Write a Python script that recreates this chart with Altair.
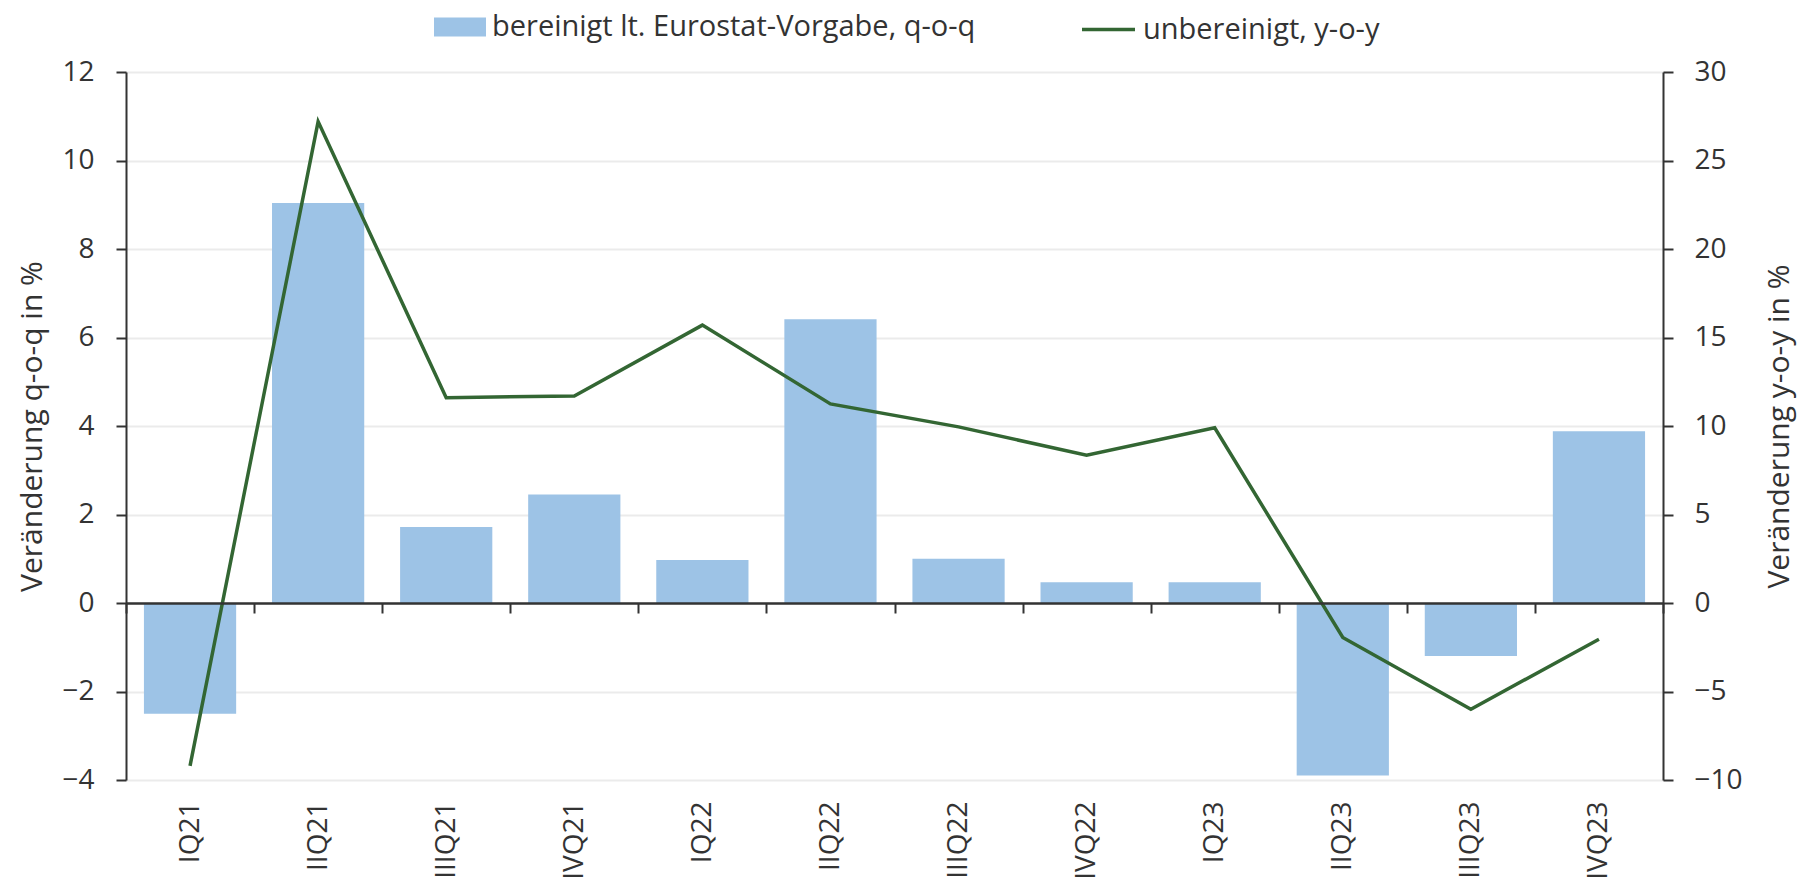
import altair as alt
import pandas as pd

quarters = ["IQ21", "IIQ21", "IIIQ21", "IVQ21", "IQ22", "IIQ22",
            "IIIQ22", "IVQ22", "IQ23", "IIQ23", "IIIQ23", "IVQ23"]
qoq = [-2.5, 9.04, 1.72, 2.45, 0.97, 6.41, 1.0, 0.47, 0.47, -3.9, -1.2, 3.88]
yoy = [-9.2, 27.2, 11.6, 11.7, 15.7, 11.25, 9.95, 8.35, 9.9, -1.95, -6.0, -2.05]
series_names = ["bereinigt lt. Eurostat-Vorgabe, q-o-q", "unbereinigt, y-o-y"]
left_domain = [-4, 12]
right_domain = [-10, 30]
left_ticks = [-4, -2, 0, 2, 4, 6, 8, 10, 12]
right_ticks = [-10, -5, 0, 5, 10, 15, 20, 25, 30]

df = pd.DataFrame({
    "q": quarters,
    "qoq": qoq,
    "yoy": yoy,
    "s1": [series_names[0]] * len(quarters),
    "s2": [series_names[1]] * len(quarters),
})

FONT = "Open Sans"
TXT = "#333333"
BAR = "#9DC3E6"
LINE = "#336633"

W, H = 1537, 708
# the category axis sits on the zero line of the left scale
zero_offset = H * (0 - left_domain[0]) / (left_domain[1] - left_domain[0])

xenc = alt.X("q:N", sort=quarters,
             scale=alt.Scale(paddingInner=0, paddingOuter=0),
             axis=alt.Axis(title=None, labelAngle=-90,
                           offset=-zero_offset, labelPadding=zero_offset + 11,
                           labelFontSize=28, labelFont=FONT, labelColor=TXT,
                           domain=True, domainColor=TXT, domainWidth=2.5,
                           ticks=True, tickBand="extent", tickColor=TXT,
                           tickWidth=2, tickSize=10, grid=False, zindex=1))

bars = alt.Chart(df).mark_bar(width=alt.RelativeBandSize(0.72)).encode(
    x=xenc,
    y=alt.Y("qoq:Q",
            scale=alt.Scale(domain=left_domain, nice=False, zero=False),
            axis=alt.Axis(title="Veränderung q-o-q in %", values=left_ticks,
                          orient="left", grid=True, gridColor="#ebebeb", gridWidth=2,
                          domain=True, domainColor=TXT, domainWidth=2,
                          ticks=True, tickColor=TXT, tickWidth=2, tickSize=10,
                          labelFontSize=28, labelFont=FONT, labelColor=TXT, labelPadding=22,
                          titleFontSize=30, titleFont=FONT, titleColor=TXT,
                          titleFontWeight="normal", titlePadding=14)),
    fill=alt.Fill("s1:N", scale=alt.Scale(domain=[series_names[0]], range=[BAR]),
                  legend=alt.Legend(title=None, orient="none", legendX=308, legendY=-71,
                                    symbolType="M-1,-0.365L1,-0.365L1,0.365L-1,0.365Z",
                                    symbolSize=2704, symbolStrokeWidth=0,
                                    labelFontSize=29, labelFont=FONT, labelColor=TXT,
                                    labelOffset=6, labelLimit=800, padding=0)),
)

line = alt.Chart(df).mark_line(strokeWidth=3.5).encode(
    x=alt.X("q:N", sort=quarters),
    y=alt.Y("yoy:Q",
            scale=alt.Scale(domain=right_domain, nice=False, zero=False),
            axis=alt.Axis(title="Veränderung y-o-y in %", values=right_ticks,
                          orient="right", grid=False,
                          domain=True, domainColor=TXT, domainWidth=2,
                          ticks=True, tickColor=TXT, tickWidth=2, tickSize=10,
                          labelFontSize=28, labelFont=FONT, labelColor=TXT, labelPadding=21,
                          titleFontSize=30, titleFont=FONT, titleColor=TXT,
                          titleFontWeight="normal", titleAngle=270, titlePadding=52)),
    stroke=alt.Stroke("s2:N", scale=alt.Scale(domain=[series_names[1]], range=[LINE]),
                      legend=alt.Legend(title=None, orient="none", legendX=954, legendY=-71,
                                        symbolType="stroke", symbolSize=2809,
                                        symbolStrokeWidth=3.5,
                                        labelFontSize=29, labelFont=FONT, labelColor=TXT,
                                        labelOffset=6, labelLimit=800, padding=0)),
)

chart = alt.layer(bars, line).resolve_scale(
    y="independent", fill="independent", stroke="independent"
).properties(
    width=W, height=H,
    autosize=alt.AutoSizeParams(type="none"),
    padding={"left": 118, "top": 64, "right": 137, "bottom": 108},
).configure_view(stroke=None).configure(background="white")

chart.save("out.html", embed_options={"renderer": "svg", "actions": False})
